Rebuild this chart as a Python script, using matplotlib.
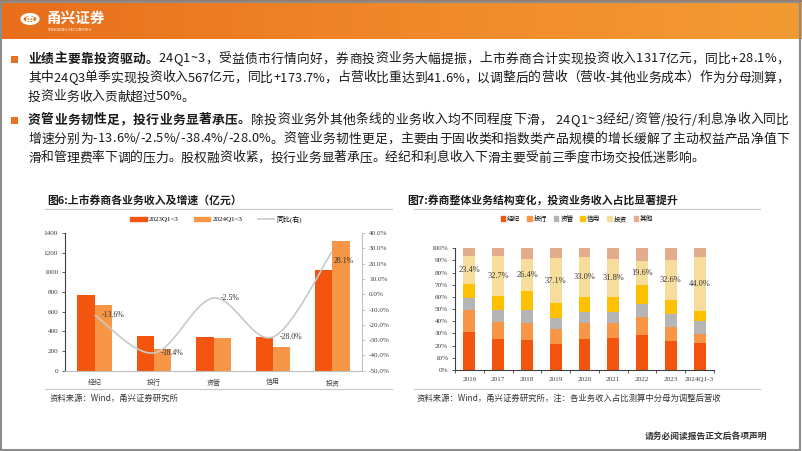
import matplotlib
matplotlib.use("Agg")
import matplotlib.pyplot as plt
import numpy as np
from matplotlib.patches import Rectangle, PathPatch, Circle, Patch
from matplotlib.path import Path
from matplotlib.lines import Line2D
from matplotlib.colors import LinearSegmentedColormap

plt.rcParams['font.family'] = ['Noto Sans CJK SC', 'DejaVu Sans']
SERIF = ['Liberation Serif', 'Noto Sans CJK SC']
CJK = ['Noto Sans CJK SC', 'DejaVu Sans']

# ---------------- data ----------------
biz_cats = ['经纪', '投行', '资管', '信用', '投资']
rev_2023 = [768, 352, 345, 339, 1028]
rev_2024 = [664, 217, 336, 244, 1317]
yoy = [-13.6, -38.4, -2.5, -28.0, 28.1]
left_ticks = [0, 200, 400, 600, 800, 1000, 1200, 1400]
right_ticks = [-50, -40, -30, -20, -10, 0, 10, 20, 30, 40]

years = ['2016', '2017', '2018', '2019', '2020', '2021', '2022', '2023', '2024Q1-3']
seg_names = ['经纪', '投行', '资管', '信用', '投资', '其他']
share_jingji = [31.5, 25.5, 24.4, 21.6, 25.5, 26.6, 28.8, 24.1, 21.9]
share_touhang = [17.8, 13.7, 14.0, 12.4, 13.4, 11.8, 14.8, 11.2, 7.4]
share_ziguan = [10.2, 10.1, 10.9, 8.5, 8.5, 9.5, 10.9, 10.7, 11.2]
share_xinyong = [10.9, 11.5, 15.6, 12.3, 12.6, 11.8, 15.4, 11.5, 8.3]
share_touzi = [23.4, 32.7, 26.4, 37.1, 33.0, 31.8, 19.6, 32.6, 44.0]
share_other = [6.2, 6.5, 8.7, 8.1, 7.0, 8.5, 10.5, 9.9, 7.2]
share_ticks = [0, 10, 20, 30, 40, 50, 60, 70, 80, 90, 100]

para_lines = [
    # (y, bold part, normal part, justify)
    (59, '业绩主要靠投资驱动。', '24Q1~3，受益债市行情向好，券商投资业务大幅提振，上市券商合计实现投资收入1317亿元，同比+28.1%，', True),
    (78, '', '其中24Q3单季实现投资收入567亿元，同比+173.7%，占营收比重达到41.6%，以调整后的营收（营收-其他业务成本）作为分母测算，', True),
    (97, '', '投资业务收入贡献超过50%。', False),
    (120, '资管业务韧性足，投行业务显著承压。', '除投资业务外其他条线的业务收入均不同程度下滑， 24Q1~3经纪/资管/投行/利息净收入同比', True),
    (139, '', '增速分别为-13.6%/-2.5%/-38.4%/-28.0%。资管业务韧性更足，主要由于固收类和指数类产品规模的增长缓解了主动权益产品净值下', True),
    (158, '', '滑和管理费率下调的压力。股权融资收紧，投行业务显著承压。经纪和利息收入下滑主要受前三季度市场交投低迷影响。', False),
]

C23 = '#F4550E'
C24 = '#F79646'
seg_colors = ['#F4550E', '#F79646', '#B5B5B5', '#FFC000', '#F6DD9C', '#E3AC8C']

W, H = 802, 451
fig = plt.figure(figsize=(W / 100, H / 100), dpi=100)


def fx(x):
    return x / W


def fy(y):
    return 1 - y / H


renderer = fig.canvas.get_renderer()

# ---------------- slide decoration ----------------
grad = np.linspace(0, 1, 256).reshape(1, -1)
cmap = LinearSegmentedColormap.from_list('b', ['#E86E1C', '#F0882A', '#F39B33'])
bax = fig.add_axes([0, fy(39), 1, 39 / H])
bax.imshow(grad, aspect='auto', cmap=cmap, extent=[0, 1, 0, 1])
bax.axis('off')
fig.add_artist(Rectangle((0, fy(2)), 1, 2 / H, transform=fig.transFigure,
                         color='#9A7A66', lw=0))
fig.add_artist(Circle((fx(30), fy(19)), 8 / W, transform=fig.transFigure,
                      fill=False, ec='white', lw=2.2))
fig.text(fx(30), fy(19), '甬', color='white', fontsize=7, fontweight='bold',
         ha='center', va='center', family=CJK)
fig.text(fx(46), fy(18), '甬兴证券', color='white', fontsize=10.5, fontweight='bold',
         ha='left', va='center', family=CJK)
fig.text(fx(47), fy(30), 'YONGXING SECURITIES', color='white', fontsize=3,
         ha='left', va='center')
fig.add_artist(Rectangle((0.001, 0.002), 0.997, fy(2) - 0.002, transform=fig.transFigure,
                         fill=False, ec='#8C8C8C', lw=1.5))

# ---------------- paragraph text (justified) ----------------
X0, X1 = 28, 789


def char_widths(chars, fs):
    out = []
    for ch, b in chars:
        t = fig.text(0, 0, ch, fontsize=fs, fontweight='bold' if b else 'normal', family=CJK)
        out.append(t.get_window_extent(renderer).width)
        t.remove()
    return out


def line_chars(bold, normal):
    return [(c, True) for c in bold] + [(c, False) for c in normal]


REF = 10.0
natural = []
for y, b, n, j in para_lines:
    if j:
        natural.append(sum(char_widths(line_chars(b, n), REF)))
FS = REF * (X1 - X0) / max(natural) * 0.995

for y, b, n, j in para_lines:
    chars = line_chars(b, n)
    ws = char_widths(chars, FS)
    gap = 0.0
    if j and len(chars) > 1:
        gap = ((X1 - X0) - sum(ws)) / (len(chars) - 1)
    xx = X0
    for (ch, bb), w in zip(chars, ws):
        fig.text(fx(xx), fy(y), ch, fontsize=FS, fontweight='bold' if bb else 'normal',
                 family=CJK, ha='left', va='center', color='#1A1A1A')
        xx += w + gap

for yb in (59, 120):
    fig.add_artist(Rectangle((fx(11), fy(yb + 4)), 7 / W, 7 / H,
                             transform=fig.transFigure, color='#E8731E', lw=0))

# titles and separator lines
fig.text(fx(47), fy(200), '图6:上市券商各业务收入及增速（亿元）', fontsize=7.8,
         fontweight='bold', family=CJK, va='center', color='#1A1A1A')
fig.text(fx(407), fy(200), '图7:券商整体业务结构变化，投资业务收入占比显著提升', fontsize=7.8,
         fontweight='bold', family=CJK, va='center', color='#1A1A1A')
for x0, x1 in ((45, 392), (414, 760)):
    for yy in (209, 389):
        fig.add_artist(Line2D([fx(x0), fx(x1)], [fy(yy), fy(yy)], transform=fig.transFigure,
                              color='#C8C8C8', lw=0.8))
fig.text(fx(50), fy(398), '资料来源：Wind，甬兴证券研究所', fontsize=6, family=CJK,
         va='center', color='#333333', style='italic')
fig.text(fx(417), fy(398), '资料来源：Wind，甬兴证券研究所，注：各业务收入占比测算中分母为调整后营收',
         fontsize=6, family=CJK, va='center', color='#333333', style='italic')
fig.text(fx(767), fy(437), '请务必阅读报告正文后各项声明', fontsize=6.3, family=CJK,
         fontweight='bold', ha='right', va='center', color='#333333')

# ---------------- chart 6 ----------------
ax = fig.add_axes([fx(65), fy(370.7), fx(362) - fx(65), (370.7 - 233) / H])
x = np.arange(len(biz_cats))
bw = 0.29
ax.bar(x - bw / 2, rev_2023, bw, color=C23, label='2023Q1~3')
ax.bar(x + bw / 2, rev_2024, bw, color=C24, label='2024Q1~3')
ax.set_xlim(-0.5, len(biz_cats) - 0.5)
ax.set_ylim(0, 1400)
ax.set_yticks(left_ticks)
ax.set_yticklabels([str(v) for v in left_ticks], family=SERIF, fontsize=5.2, color='#404040')
ax.set_xticks(x)
ax.set_xticklabels(biz_cats, family=CJK, fontsize=5, color='#404040')
ax.tick_params(axis='x', length=0, pad=6)
ax.tick_params(axis='y', length=2, width=0.6, pad=3, color='#404040')
for s in ('top', 'right'):
    ax.spines[s].set_visible(False)
ax.spines['left'].set_color('#404040')
ax.spines['left'].set_linewidth(0.8)
ax.spines['bottom'].set_color('#BFBFBF')
ax.spines['bottom'].set_linewidth(0.8)

ax2 = ax.twinx()
ax2.set_ylim(-50, 40)
ax2.set_yticks(right_ticks)
ax2.set_yticklabels([f'{v:.1f}%' for v in right_ticks], family=SERIF, fontsize=5.2, color='#404040')
ax2.tick_params(axis='y', length=2, width=0.6, pad=3, color='#BFBFBF')
for s in ('top', 'left', 'bottom'):
    ax2.spines[s].set_visible(False)
ax2.spines['right'].set_color('#BFBFBF')
ax2.spines['right'].set_linewidth(0.8)

pts = np.column_stack([x, yoy]).astype(float)
n = len(pts)
verts = [tuple(pts[0])]
codes = [Path.MOVETO]
for i in range(n - 1):
    p0 = pts[max(i - 1, 0)]
    p1 = pts[i]
    p2 = pts[i + 1]
    p3 = pts[min(i + 2, n - 1)]
    c1 = p1 + (p2 - p0) / 6
    c2 = p2 - (p3 - p1) / 6
    verts += [tuple(c1), tuple(c2), tuple(p2)]
    codes += [Path.CURVE4] * 3
ax2.add_patch(PathPatch(Path(verts, codes), fill=False, ec='#C9C9C9', lw=1.2))
for i, v in enumerate(yoy):
    off = (1, -7) if i == n - 1 else (5, 0)
    ax2.annotate(f'{v:.1f}%', (x[i], v), xytext=off, textcoords='offset points',
                 ha='left', va='center', fontsize=5.6, family=SERIF, color='#333333')

handles = [Patch(color=C23), Patch(color=C24), Line2D([], [], color='#C9C9C9', lw=1.2)]
fig.legend(handles, ['2023Q1~3', '2024Q1~3', '同比(右)'], loc='center',
           bbox_to_anchor=(fx(216), fy(219)), ncol=3, frameon=False,
           prop={'family': SERIF, 'size': 5}, handlelength=2.4, handleheight=0.6,
           columnspacing=2.2, handletextpad=0.3)

# ---------------- chart 7 ----------------
bx = fig.add_axes([fx(455), fy(370), fx(714) - fx(455), (370 - 248.3) / H])
xs = np.arange(len(years))
series = [share_jingji, share_touhang, share_ziguan, share_xinyong, share_touzi, share_other]
bottom = np.zeros(len(years))
for name, vals, col in zip(seg_names, series, seg_colors):
    bx.bar(xs, vals, 0.41, bottom=bottom, color=col, label=name)
    bottom = bottom + np.array(vals)
base_inv = (np.array(share_jingji) + np.array(share_touhang) + np.array(share_ziguan)
            + np.array(share_xinyong))
for i, v in enumerate(share_touzi):
    bx.text(xs[i], base_inv[i] + v / 2, f'{v:.1f}%', ha='center', va='center',
            fontsize=6, family=SERIF, color='#333333')
bx.set_xlim(-0.5, len(years) - 0.5)
bx.set_ylim(0, 100)
bx.set_yticks(share_ticks)
bx.set_yticklabels([f'{v}%' for v in share_ticks], family=SERIF, fontsize=5.2, color='#404040')
bx.set_xticks(xs)
bx.set_xticklabels(years, family=SERIF, fontsize=5.2, color='#404040')
bx.set_xticks(np.arange(-0.5, len(years), 1), minor=True)
bx.tick_params(axis='x', which='major', length=0, pad=5)
bx.tick_params(axis='x', which='minor', length=2, width=0.6, color='#404040')
bx.tick_params(axis='y', length=2, width=0.6, pad=3, color='#404040')
for s in ('top', 'right'):
    bx.spines[s].set_visible(False)
bx.spines['left'].set_color('#404040')
bx.spines['left'].set_linewidth(0.8)
bx.spines['bottom'].set_color('#404040')
bx.spines['bottom'].set_linewidth(0.8)

h2 = [Patch(color=c) for c in seg_colors]
fig.legend(h2, seg_names, loc='center', bbox_to_anchor=(fx(577), fy(219)), ncol=6,
           frameon=False, prop={'family': CJK, 'size': 4.8}, handlelength=0.7,
           handleheight=0.7, columnspacing=1.0, handletextpad=0.3)

fig.savefig('out.png', dpi=100)
